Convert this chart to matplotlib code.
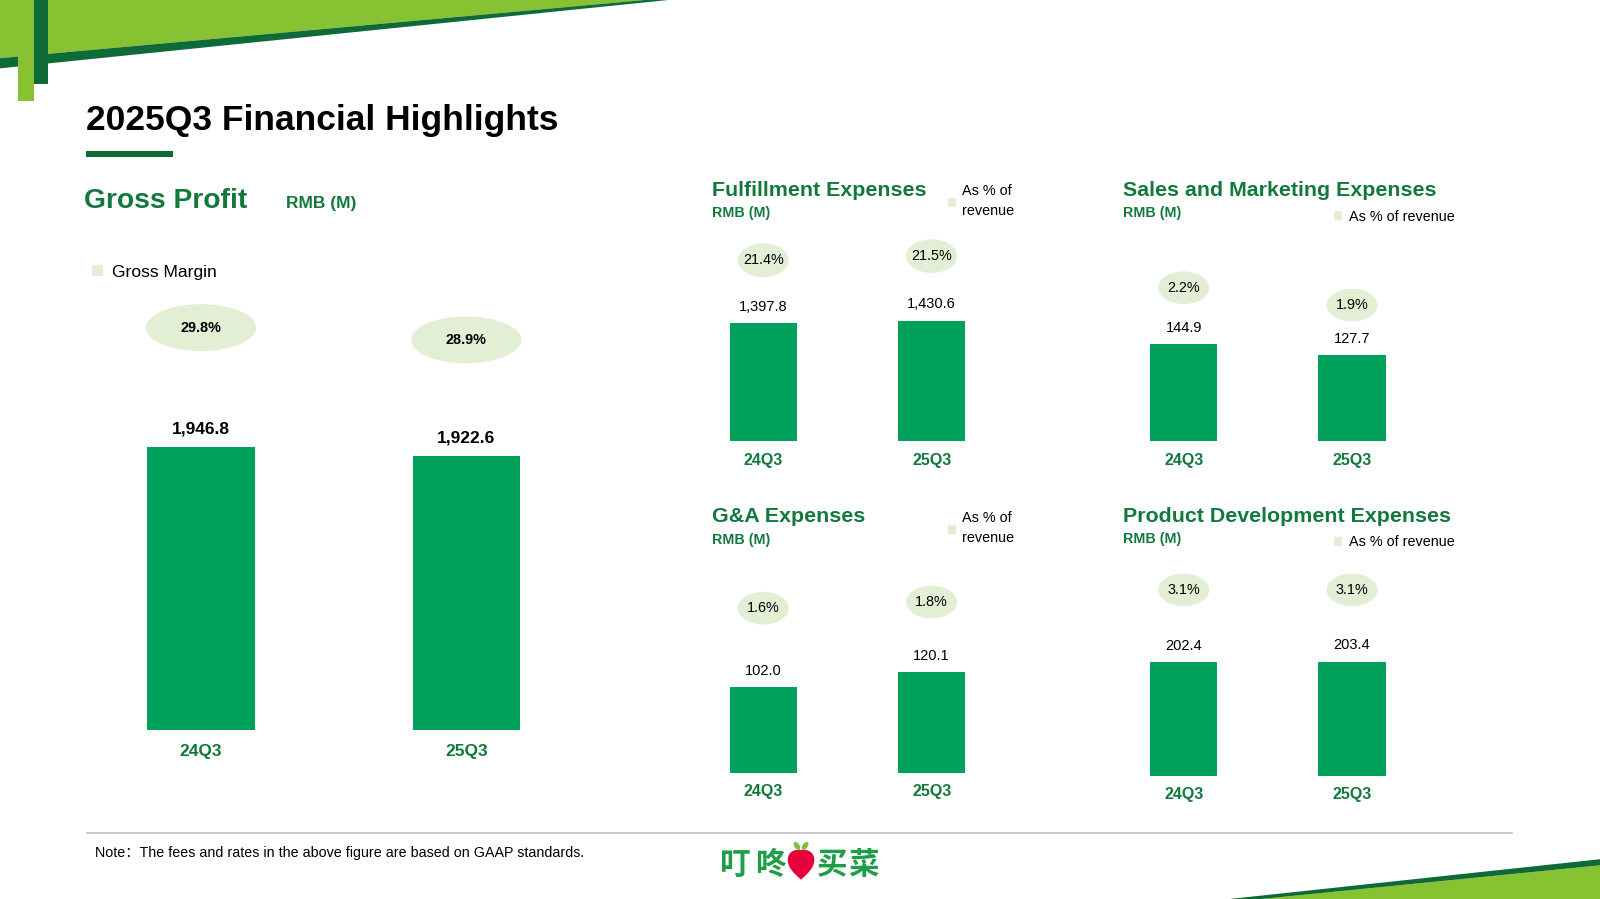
import matplotlib
matplotlib.use("Agg")
import matplotlib.pyplot as plt
import matplotlib.transforms as mtransforms
from matplotlib.patches import Ellipse, Polygon, Rectangle, PathPatch
from matplotlib.path import Path

plt.rcParams['font.family'] = ['Liberation Sans', 'Noto Sans CJK SC', 'DejaVu Sans']

# ---- data ----
quarters = ["24Q3", "25Q3"]
gross_profit = [1946.8, 1922.6]
gross_margin = [29.8, 28.9]
fulfillment = [1397.8, 1430.6]
fulfillment_pct = [21.4, 21.5]
sales_marketing = [144.9, 127.7]
sales_marketing_pct = [2.2, 1.9]
g_and_a = [102.0, 120.1]
g_and_a_pct = [1.6, 1.8]
product_dev = [202.4, 203.4]
product_dev_pct = [3.1, 3.1]

BAR = "#00A15A"
DARK = "#12793D"
PALE = "#E2EFD5"
LIME = "#86C232"
STRIPE = "#0E6B38"

W, H = 1568, 881          # slide grid used for layout
PX = 1600 / W             # grid px -> output px
PT = PX * 0.72            # grid px -> points

fig = plt.figure(figsize=(16, 8.99), dpi=100)
bg = fig.add_axes([0, 0, 1, 1])
bg.set_xlim(0, W)
bg.set_ylim(H, 0)
bg.axis('off')


def box(l, t, w, h):
    return [l / W, 1 - (t + h) / H, w / W, h / H]


# -------------------------
# decorations
# -------------------------
bg.add_patch(Polygon([(0, 0), (632, 0), (0, 57)], color=LIME, lw=0))
bg.add_patch(Polygon([(0, 57), (632, 0), (655, 0), (0, 67)], color=STRIPE, lw=0))
bg.add_patch(Rectangle((18, 0), 15, 99, color=LIME, lw=0))
bg.add_patch(Rectangle((33, 0), 14, 82, color=STRIPE, lw=0))
bg.add_patch(Rectangle((84, 148), 86, 6, color=STRIPE, lw=0))

bg.add_patch(Polygon([(1236, 881), (1568, 848), (1568, 881)], color=LIME, lw=0))
bg.add_patch(Polygon([(1205, 881), (1568, 842), (1568, 848), (1236, 881)], color=STRIPE, lw=0))

bg.plot([85, 1482], [816, 816], color="#BFBFBF", lw=1.2)

bg.text(84, 127, "2025Q3 Financial Highlights", fontsize=25.5, fontweight='bold',
        color='black', va='baseline')
bg.text(93, 840, "Note：The fees and rates in the above figure are based on GAAP standards.",
        fontsize=10.3, color='black', va='baseline')

# logo
for ch, x in zip("叮咚买菜", [721, 755, 815, 846]):
    bg.text(x, 848, ch, fontsize=22, fontweight='bold', color="#1E9E48",
            ha='center', va='center', family=['Noto Sans CJK SC'])
verts = [(785, 862), (778, 856), (772, 850), (772, 843),
         (772, 835), (778, 832), (785, 833),
         (792, 832), (798, 835), (798, 843),
         (798, 850), (792, 856), (785, 862), (785, 862)]
codes = [Path.MOVETO] + [Path.CURVE4] * 12 + [Path.CLOSEPOLY]
bg.add_patch(PathPatch(Path(verts, codes), facecolor="#E8003D", edgecolor='none'))
bg.add_patch(Ellipse((781, 829), 5, 9, angle=-35, color="#7CC242", lw=0))
bg.add_patch(Ellipse((789, 829), 5, 9, angle=35, color="#7CC242", lw=0))

# -------------------------
# headings and legends
# -------------------------
bg.text(82, 204, "Gross Profit", fontsize=20.3, fontweight='bold', color=DARK, va='baseline')
bg.text(280, 204, "RMB (M)", fontsize=12.5, fontweight='bold', color=DARK, va='baseline')
bg.add_patch(Rectangle((90, 260), 11, 10, color=PALE, lw=0))
bg.text(110, 271, "Gross Margin", fontsize=12.6, color='black', va='baseline')

small_heads = [
    (698, 192, "Fulfillment Expenses", 929, 194, "two"),
    (1101, 192, "Sales and Marketing Expenses", 1307, 207, "one"),
    (698, 512, "G&A Expenses", 929, 514, "two"),
    (1101, 511.5, "Product Development Expenses", 1307, 526, "one"),
]
for x, y, title, lx, ly, mode in small_heads:
    bg.text(x, y, title, fontsize=15.4, fontweight='bold', color=DARK, va='baseline')
    bg.text(x, y + 21, "RMB (M)", fontsize=10.3, fontweight='bold', color=DARK, va='baseline')
    bg.add_patch(Rectangle((lx, ly), 8, 9, color=PALE, lw=0))
    if mode == "two":
        bg.text(lx + 14, ly - 2.5, "As % of", fontsize=10.4, va='baseline')
        bg.text(lx + 14, ly + 17, "revenue", fontsize=10.4, va='baseline')
    else:
        bg.text(lx + 15, ly + 9.5, "As % of revenue", fontsize=10.4, va='baseline')


# -------------------------
# bar panels
# -------------------------
def panel(rect, vals, pcts, ylim, plim, bar_w, ell, val_off, cat_off,
          cat_size, val_size, val_bold, pct_size, pct_bold):
    ax = fig.add_axes(box(*rect))
    ax.bar(range(len(vals)), vals, width=bar_w, color=BAR)
    ax.set_xlim(-0.5, 1.5)
    ax.set_ylim(*ylim)
    ax.axis('off')
    for i, v in enumerate(vals):
        ax.annotate(f"{v:,.1f}", (i, v), xytext=(0, val_off * PT), textcoords='offset points',
                    ha='center', va='center', fontsize=val_size,
                    fontweight='bold' if val_bold else 'normal', annotation_clip=False)
        ax.annotate(quarters[i], (i, 0), xycoords=('data', 'axes fraction'),
                    xytext=(0, -cat_off * PT), textcoords='offset points',
                    ha='center', va='center', fontsize=cat_size, fontweight='bold', color=DARK)
    ax2 = ax.twinx()
    ax2.set_ylim(*plim)
    ax2.axis('off')
    for i, p in enumerate(pcts):
        t = fig.dpi_scale_trans + mtransforms.ScaledTranslation(i, p, ax2.transData)
        ax2.add_patch(Ellipse((0, 0), ell[0] * PX / 100, ell[1] * PX / 100, transform=t,
                              facecolor=PALE, edgecolor='none', clip_on=False, zorder=1))
        ax2.text(i, p, f"{p:.1f}%", ha='center', va='center', fontsize=pct_size,
                 fontweight='bold' if pct_bold else 'normal', zorder=3)
    return ax


panel((67, 290, 520, 425), gross_profit, gross_margin, (1202.2, 2344.7), (0.25, 32.13),
      0.404, (108, 46), 18, 21, 12.5, 12.5, True, 10.4, True)
panel((665.5, 232, 330, 200), fulfillment, fulfillment_pct, (0, 2431), (16.975, 21.975),
      0.4, (50, 33), 16, 19, 11.5, 10.5, False, 10.4, False)
panel((1077.5, 232, 330, 200), sales_marketing, sales_marketing_pct, (0, 305), (-0.446, 3.081),
      0.4, (50, 32), 16, 19, 11.5, 10.5, False, 10.4, False)
panel((665.5, 558, 330, 200), g_and_a, g_and_a_pct, (0, 241.5), (-3.8, 2.867),
      0.4, (50, 32), 16, 18, 11.5, 10.5, False, 10.4, False)
panel((1077.5, 560, 330, 200), product_dev, product_dev_pct, (0, 364.7), (-1.45, 3.55),
      0.4, (50, 32), 16, 19, 11.5, 10.5, False, 10.4, False)

fig.savefig("out.png", dpi=100)
